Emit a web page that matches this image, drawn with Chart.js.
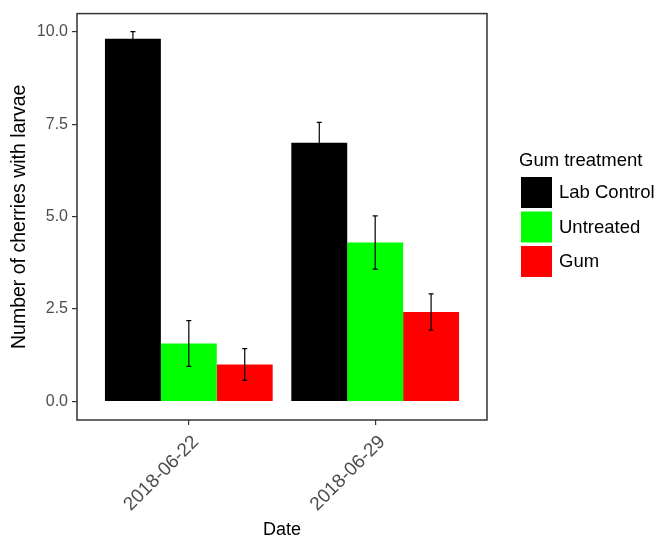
<!DOCTYPE html>
<html lang="en">
<head>
<meta charset="UTF-8">
<title>Cherries with larvae by gum treatment</title>
<script src="https://cdn.jsdelivr.net/npm/chart.js"></script>
<style>
body { margin: 0; background: #fff; }
.wrap { width: 658px; height: 542px; position: relative; }
</style>
</head>
<body>
<div class="wrap"><canvas id="chart"></canvas></div>
<script>
// data
const dates = ['2018-06-22', '2018-06-29'];
const treatments = ['Lab Control', 'Untreated', 'Gum'];
const colors = ['#000000', '#00ff00', '#ff0000'];
const labControl = [9.81, 7.0];
const untreated = [1.57, 4.30];
const gum = [1.0, 2.42];
const labControlErr = [0.19, 0.55];
const untreatedErr = [0.62, 0.72];
const gumErr = [0.43, 0.49];
const yTicks = [0, 2.5, 5, 7.5, 10];

const means = [labControl, untreated, gum];
const errs = [labControlErr, untreatedErr, gumErr];

const FONT = 'Liberation Sans, Arial, sans-serif';

// error bars on top of each bar
const errorBars = {
    id: 'errorBars',
    afterDatasetsDraw(chart) {
        const ctx = chart.ctx;
        const y = chart.scales.y;
        ctx.save();
        ctx.strokeStyle = '#000';
        ctx.lineWidth = 1.2;
        chart.data.datasets.forEach((ds, i) => {
            const meta = chart.getDatasetMeta(i);
            meta.data.forEach((bar, j) => {
                const v = ds.data[j].y, e = ds.err[j];
                const top = y.getPixelForValue(v + e);
                const bot = y.getPixelForValue(v - e);
                ctx.beginPath();
                ctx.moveTo(bar.x, top); ctx.lineTo(bar.x, bot);
                ctx.moveTo(bar.x - 2.5, top); ctx.lineTo(bar.x + 2.5, top);
                ctx.moveTo(bar.x - 2.5, bot); ctx.lineTo(bar.x + 2.5, bot);
                ctx.stroke();
            });
        });
        ctx.restore();
    }
};

// panel border and legend like the ggplot one
const panelAndLegend = {
    id: 'panelAndLegend',
    afterDraw(chart) {
        const ctx = chart.ctx;
        const a = chart.chartArea;
        ctx.save();
        ctx.strokeStyle = '#333';
        ctx.lineWidth = 1.5;
        ctx.strokeRect(a.left, a.top, a.right - a.left, a.bottom - a.top);

        const lx = 521, ly = 177;
        ctx.fillStyle = '#000';
        ctx.font = '18.5px ' + FONT;
        ctx.textBaseline = 'middle';
        ctx.textAlign = 'left';
        ctx.fillText('Gum treatment', 519, 161);
        chart.data.datasets.forEach((ds, i) => {
            const ky = ly + i * 34.5;
            ctx.fillStyle = ds.backgroundColor;
            ctx.fillRect(lx, ky, 31, 31);
            ctx.fillStyle = '#000';
            ctx.fillText(ds.label, 559, ky + 16);
        });
        ctx.restore();
    }
};

new Chart(document.getElementById('chart'), {
    type: 'bar',
    data: {
        datasets: treatments.map((t, i) => ({
            label: t,
            data: means[i].map((v, j) => ({ x: j + 1, y: v })),
            err: errs[i],
            backgroundColor: colors[i],
            borderWidth: 0,
            barPercentage: 1.0,
            categoryPercentage: 0.9
        }))
    },
    options: {
        responsive: true,
        maintainAspectRatio: false,
        animation: false,
        layout: { padding: { top: 12, right: 171, left: 0, bottom: 0 } },
        plugins: { legend: { display: false }, tooltip: { enabled: false } },
        scales: {
            x: {
                type: 'linear',
                min: 0.4,
                max: 2.6,
                offset: false,
                afterBuildTicks: s => { s.ticks = dates.map((d, i) => ({ value: i + 1 })); },
                afterFit: s => { s.height = 122; },
                border: { display: false },
                grid: { offset: false, drawOnChartArea: false, drawTicks: true, tickLength: 5, tickColor: '#333', lineWidth: 1.2 },
                ticks: {
                    autoSkip: false,
                    minRotation: 45,
                    maxRotation: 45,
                    padding: 6,
                    labelOffset: 7,
                    color: '#4d4d4d',
                    font: { family: FONT, size: 19 },
                    callback: v => dates[v - 1]
                },
                title: { display: true, text: 'Date', color: '#000', font: { family: FONT, size: 18 }, padding: { bottom: 1 } }
            },
            y: {
                min: -0.5,
                max: 10.49,
                afterBuildTicks: s => { s.ticks = yTicks.map(v => ({ value: v })); },
                afterFit: s => { s.width = 77; },
                border: { display: false },
                grid: { drawOnChartArea: false, drawTicks: true, tickLength: 5, tickColor: '#333', lineWidth: 1.2 },
                ticks: {
                    padding: 4,
                    color: '#4d4d4d',
                    font: { family: FONT, size: 16 },
                    callback: v => v.toFixed(1)
                },
                title: { display: true, text: 'Number of cherries with larvae', color: '#000', font: { family: FONT, size: 19.5 }, padding: { top: 8 } }
            }
        }
    },
    plugins: [errorBars, panelAndLegend]
});
</script>
</body>
</html>
